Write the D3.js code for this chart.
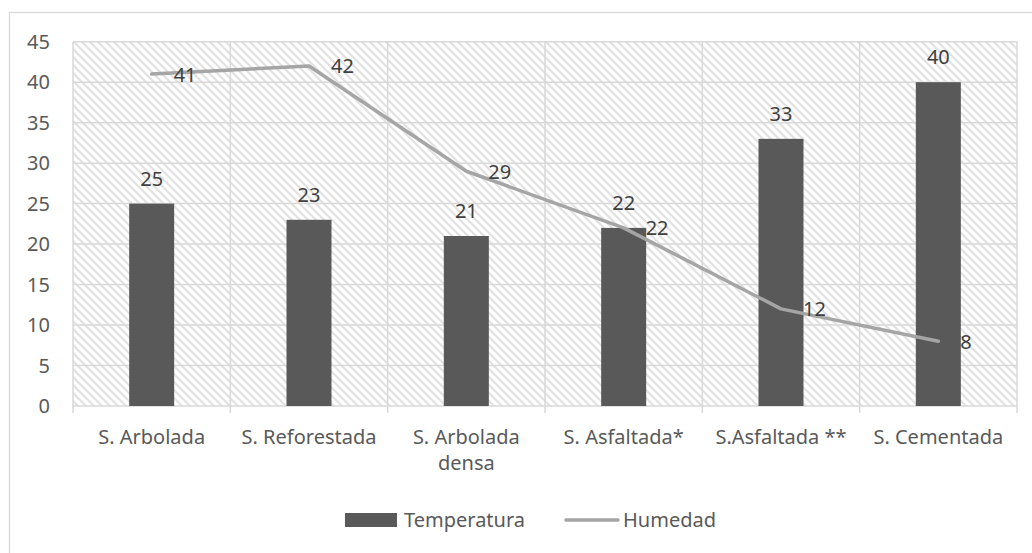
<!DOCTYPE html>
<html>
<head>
<meta charset="utf-8">
<script src="https://cdn.jsdelivr.net/npm/d3@7"></script>
<style>
  body { margin: 0; background: #fff; }
  text { font-family: "Noto Sans", "Open Sans", sans-serif; }
</style>
</head>
<body>
<div id="chart"></div>
<script>
// data
const categories = [["S. Arbolada"], ["S. Reforestada"], ["S. Arbolada", "densa"], ["S. Asfaltada*"], ["S.Asfaltada **"], ["S. Cementada"]]
const temperatura = [25, 23, 21, 22, 33, 40]
const humedad = [41, 42, 29, 22, 12, 8]
const yTicks = [0, 5, 10, 15, 20, 25, 30, 35, 40, 45]

const width = 1032
const height = 553
const MARGIN = { top: 41.7, right: 15, bottom: 147, left: 73 }

const svg = d3.select("#chart").append("svg")
    .attr("width", width)
    .attr("height", height)

// hatch for the plot area
const defs = svg.append("defs")
defs.append("pattern")
    .attr("id", "hatch")
    .attr("patternUnits", "userSpaceOnUse")
    .attr("width", 8)
    .attr("height", 8)
    .call(p => {
        p.append("rect").attr("width", 8).attr("height", 8).attr("fill", "#fff")
        p.append("path")
            .attr("d", "M-2,-2 L10,10 M-2,6 L2,10 M6,-2 L10,2")
            .attr("stroke", "#e2e2e2")
            .attr("stroke-width", 2.2)
    })

// outer chart border
svg.append("rect")
    .attr("x", 9.5).attr("y", 12.5)
    .attr("width", 1030).attr("height", 560)
    .attr("fill", "none")
    .attr("stroke", "#d9d9d9")
    .attr("stroke-width", 1.3)

const x = d3.scaleBand()
    .domain(d3.range(categories.length))
    .range([MARGIN.left, width - MARGIN.right])

const y = d3.scaleLinear()
    .domain([0, 45])
    .range([height - MARGIN.bottom, MARGIN.top])

const plotW = x.range()[1] - x.range()[0]
const y0 = y(0)

svg.append("rect")
    .attr("x", MARGIN.left).attr("y", y(45))
    .attr("width", plotW).attr("height", y0 - y(45))
    .attr("fill", "url(#hatch)")

// horizontal gridlines
svg.append("g")
    .selectAll("line")
    .data(yTicks)
    .join("line")
    .attr("x1", MARGIN.left).attr("x2", x.range()[1])
    .attr("y1", d => y(d)).attr("y2", d => y(d))
    .attr("stroke", "#d9d9d9")
    .attr("stroke-width", 1.5)

// vertical gridlines + ticks at category boundaries
const bounds = d3.range(categories.length + 1).map(i => MARGIN.left + i * x.bandwidth())
svg.append("g")
    .selectAll("line")
    .data(bounds)
    .join("line")
    .attr("x1", d => d).attr("x2", d => d)
    .attr("y1", y(45)).attr("y2", y0 + 7)
    .attr("stroke", "#d9d9d9")
    .attr("stroke-width", 1.5)

// y axis labels
svg.append("g")
    .selectAll("text")
    .data(yTicks)
    .join("text")
    .attr("x", 50)
    .attr("y", d => y(d) + 7)
    .attr("text-anchor", "end")
    .attr("font-size", 20)
    .attr("fill", "#595959")
    .text(d => d)

// x axis labels
svg.append("g")
    .selectAll("text")
    .data(categories)
    .join("text")
    .attr("x", (d, i) => x(i) + x.bandwidth() / 2)
    .attr("y", 444)
    .attr("text-anchor", "middle")
    .attr("font-size", 20)
    .attr("fill", "#595959")
    .each(function (d) {
        d3.select(this).selectAll("tspan")
            .data(d)
            .join("tspan")
            .attr("x", d3.select(this).attr("x"))
            .attr("dy", (t, j) => j === 0 ? 0 : 26)
            .text(t => t)
    })

// bars
const barW = 45
svg.append("g")
    .selectAll("rect")
    .data(temperatura)
    .join("rect")
    .attr("x", (d, i) => x(i) + x.bandwidth() / 2 - barW / 2)
    .attr("y", d => y(d))
    .attr("width", barW)
    .attr("height", d => y0 - y(d))
    .attr("fill", "#595959")

svg.append("g")
    .selectAll("text")
    .data(temperatura)
    .join("text")
    .attr("x", (d, i) => x(i) + x.bandwidth() / 2)
    .attr("y", d => y(d) - 18)
    .attr("text-anchor", "middle")
    .attr("font-size", 20)
    .attr("fill", "#404040")
    .text(d => d)

// humedad line
const line = d3.line()
    .x((d, i) => x(i) + x.bandwidth() / 2)
    .y(d => y(d))

svg.append("path")
    .datum(humedad)
    .attr("d", line)
    .attr("fill", "none")
    .attr("stroke", "#a5a5a5")
    .attr("stroke-width", 3.5)
    .attr("stroke-linejoin", "round")
    .attr("stroke-linecap", "round")

svg.append("g")
    .selectAll("text")
    .data(humedad)
    .join("text")
    .attr("x", (d, i) => x(i) + x.bandwidth() / 2 + 22)
    .attr("y", d => y(d) + 7.5)
    .attr("font-size", 20)
    .attr("fill", "#404040")
    .text(d => d)

// legend
const legend = svg.append("g")
legend.append("rect")
    .attr("x", 345).attr("y", 513)
    .attr("width", 52).attr("height", 14)
    .attr("fill", "#595959")
legend.append("text")
    .attr("x", 404).attr("y", 527)
    .attr("font-size", 20).attr("fill", "#595959")
    .text("Temperatura")
legend.append("line")
    .attr("x1", 566).attr("x2", 618)
    .attr("y1", 520).attr("y2", 520)
    .attr("stroke", "#a5a5a5").attr("stroke-width", 3.5)
    .attr("stroke-linecap", "round")
legend.append("text")
    .attr("x", 623).attr("y", 527)
    .attr("font-size", 20).attr("fill", "#595959")
    .text("Humedad")
</script>
</body>
</html>
